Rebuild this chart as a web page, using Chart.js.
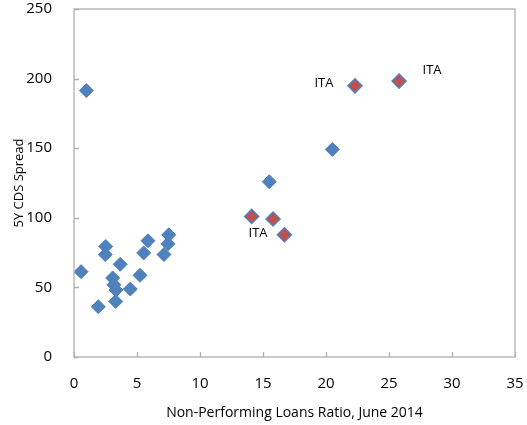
<!DOCTYPE html>
<html lang="en">
<head>
    <meta charset="UTF-8" />
    <title>NPL vs CDS</title>
    <style>
        body { margin: 0; background: #ffffff; }
        #chartContainer { width: 527px; height: 425px; }
    </style>
</head>
<body>
<div id="chartContainer"><canvas id="chart"></canvas></div>

<script src="https://cdn.jsdelivr.net/npm/chart.js"></script>
<script>
    // NPL ratio (x) vs 5Y CDS spread (y)
    const otherNpl = [0.98, 0.56, 1.93, 2.52, 2.48, 3.07, 3.17, 3.33, 3.31, 3.67, 4.47, 5.24, 5.53, 5.87, 7.14, 7.46, 7.52, 15.5, 20.5];
    const otherCds = [191.4, 61.3, 36.1, 79.4, 73.6, 56.8, 51.9, 48.1, 39.9, 66.6, 48.8, 58.7, 74.8, 83.5, 73.6, 81.3, 87.8, 125.9, 149.1];

    const itaNpl = [14.1, 15.8, 16.7, 22.3, 25.8];
    const itaCds = [101, 99.1, 87.8, 194.8, 198.2];
    const itaLabels = ["", "ITA", "", "ITA", "ITA"];

    const xTicks = [0, 5, 10, 15, 20, 25, 30, 35];
    const yTicks = [0, 50, 100, 150, 200, 250];

    const blue = "#4f81bd";
    const red = "#c0504d";
    const font = "'Open Sans', 'Noto Sans', sans-serif";

    // where each ITA label sits relative to its point
    const labelOffsets = [null, [-15, 14], null, [-31, -3], [33, -11]];

    const frame = {
        id: "frame",
        afterDatasetsDraw(chart) {
            const ctx = chart.ctx;
            const a = chart.chartArea;
            ctx.save();
            ctx.strokeStyle = "#b0b0b0";
            ctx.lineWidth = 1.3;
            ctx.strokeRect(a.left, a.top, a.right - a.left, a.bottom - a.top);
            // inside tick marks
            const xs = chart.scales.x, ys = chart.scales.y;
            ctx.beginPath();
            xTicks.forEach(v => {
                const p = Math.round(xs.getPixelForValue(v)) + 0.5;
                ctx.moveTo(p, a.bottom);
                ctx.lineTo(p, a.bottom - 5);
            });
            yTicks.forEach(v => {
                const p = Math.round(ys.getPixelForValue(v)) + 0.5;
                ctx.moveTo(a.left, p);
                ctx.lineTo(a.left + 5, p);
            });
            ctx.stroke();

            // ITA labels
            const meta = chart.getDatasetMeta(1);
            ctx.fillStyle = "#000000";
            ctx.font = "13px " + font;
            ctx.textAlign = "center";
            ctx.textBaseline = "middle";
            meta.data.forEach((pt, i) => {
                if (!itaLabels[i]) return;
                const off = labelOffsets[i];
                ctx.fillText(itaLabels[i], pt.x + off[0], pt.y + off[1]);
            });
            ctx.restore();
        }
    };

    function drawChart() {
        const ctx = document.getElementById("chart").getContext("2d");
        window.myChart = new Chart(ctx, {
            type: "scatter",
            data: {
                datasets: [
                    {
                        label: "Other",
                        data: otherNpl.map((x, i) => ({ x: x, y: otherCds[i] })),
                        pointStyle: "rectRot",
                        pointRadius: 7,
                        backgroundColor: blue,
                        borderColor: blue,
                        borderWidth: 1,
                    },
                    {
                        label: "ITA",
                        data: itaNpl.map((x, i) => ({ x: x, y: itaCds[i] })),
                        pointStyle: "rectRot",
                        pointRadius: 7,
                        backgroundColor: red,
                        borderColor: blue,
                        borderWidth: 1.5,
                    },
                ],
            },
            options: {
                responsive: true,
                maintainAspectRatio: false,
                animation: false,
                layout: { padding: { top: 9, right: 12, left: 0, bottom: 0 } },
                plugins: {
                    legend: { display: false },
                    tooltip: { enabled: false },
                },
                scales: {
                    x: {
                        type: "linear",
                        min: 0,
                        max: 35,
                        afterBuildTicks: s => { s.ticks = xTicks.map(v => ({ value: v })); },
                        grid: { display: false },
                        border: { display: false },
                        ticks: { color: "#000", font: { family: font, size: 15 }, padding: 10 },
                        title: {
                            display: true,
                            text: "Non-Performing Loans Ratio, June 2014",
                            color: "#000",
                            font: { family: font, size: 14 },
                            padding: { top: 3 },
                        },
                        afterFit: s => { s.height = 68; s.paddingLeft = 0; s.paddingRight = 0; },
                    },
                    y: {
                        min: 0,
                        max: 250,
                        afterBuildTicks: s => { s.ticks = yTicks.map(v => ({ value: v })); },
                        grid: { display: false },
                        border: { display: false },
                        ticks: { color: "#000", font: { family: font, size: 15 }, padding: 14 },
                        title: {
                            display: true,
                            text: "5Y CDS Spread",
                            color: "#000",
                            font: { family: font, size: 13 },
                            padding: { top: 11, bottom: 0 },
                        },
                        afterFit: s => { s.width = 74; s.paddingTop = 0; s.paddingBottom = 0; },
                    },
                },
            },
            plugins: [frame],
        });
    }

    window.onload = drawChart;
</script>
</body>
</html>
